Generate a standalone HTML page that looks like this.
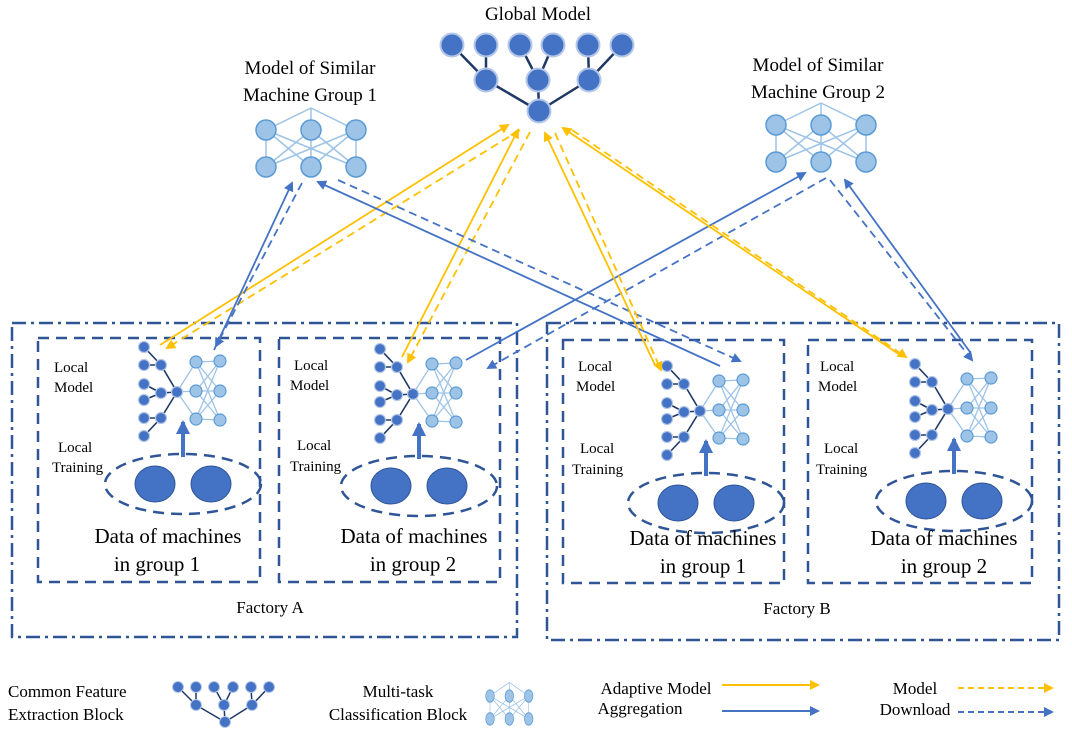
<!DOCTYPE html>
<html><head><meta charset="utf-8"><style>
html,body{margin:0;padding:0;background:#fff}
svg{display:block}
text{font-family:"Liberation Serif",serif;fill:#000}
</style></head><body>
<svg width="1072" height="744" viewBox="0 0 1072 744" xmlns="http://www.w3.org/2000/svg">
<defs>
<marker id="ao" markerWidth="10" markerHeight="10" refX="8" refY="5" orient="auto" markerUnits="userSpaceOnUse"><path d="M0,0 L10,5 L0,10 z" fill="#FFC000"/></marker>
<marker id="ab" markerWidth="10" markerHeight="10" refX="8" refY="5" orient="auto" markerUnits="userSpaceOnUse"><path d="M0,0 L10,5 L0,10 z" fill="#4472C4"/></marker>
<marker id="abl" markerWidth="14" markerHeight="14" refX="12" refY="7" orient="auto" markerUnits="userSpaceOnUse"><path d="M0,0 L14,7 L0,14 z" fill="#4472C4"/></marker>
<g id="lm">
 <g stroke="#1F3864" stroke-width="1.6">
  <line x1="144" y1="347" x2="161" y2="365"/><line x1="144" y1="365" x2="161" y2="365"/>
  <line x1="144" y1="384" x2="161" y2="393"/><line x1="144" y1="400" x2="161" y2="393"/>
  <line x1="144" y1="418" x2="161" y2="418"/><line x1="144" y1="436" x2="161" y2="418"/>
  <line x1="161" y1="365" x2="177" y2="392"/><line x1="161" y1="393" x2="177" y2="392"/><line x1="161" y1="418" x2="177" y2="392"/>
 </g>
 <g stroke="#9DC3E6" stroke-width="1.3">
  <line x1="177" y1="392" x2="196" y2="362"/><line x1="177" y1="392" x2="196" y2="391"/><line x1="177" y1="392" x2="196" y2="419"/>
  <line x1="196" y1="362" x2="220" y2="361"/><line x1="196" y1="362" x2="220" y2="391"/><line x1="196" y1="362" x2="220" y2="420"/>
  <line x1="196" y1="391" x2="220" y2="361"/><line x1="196" y1="391" x2="220" y2="391"/><line x1="196" y1="391" x2="220" y2="420"/>
  <line x1="196" y1="419" x2="220" y2="361"/><line x1="196" y1="419" x2="220" y2="391"/><line x1="196" y1="419" x2="220" y2="420"/>
 </g>
 <g fill="#4472C4" stroke="#B4C7E7" stroke-width="1.2">
  <circle cx="144" cy="347" r="5.5"/><circle cx="144" cy="365" r="5.5"/><circle cx="144" cy="384" r="5.5"/><circle cx="144" cy="400" r="5.5"/><circle cx="144" cy="418" r="5.5"/><circle cx="144" cy="436" r="5.5"/>
  <circle cx="161" cy="365" r="5.5"/><circle cx="161" cy="393" r="5.5"/><circle cx="161" cy="418" r="5.5"/><circle cx="177" cy="392" r="5.5"/>
 </g>
 <g fill="#9DC3E6" stroke="#5B9BD5" stroke-width="1.2">
  <circle cx="196" cy="362" r="6"/><circle cx="196" cy="391" r="6"/><circle cx="196" cy="419" r="6"/>
  <circle cx="220" cy="361" r="6"/><circle cx="220" cy="391" r="6"/><circle cx="220" cy="420" r="6"/>
 </g>
 <line x1="183" y1="457" x2="183" y2="422" stroke="#4472C4" stroke-width="4" marker-end="url(#abl)"/>
 <ellipse cx="183" cy="484" rx="78" ry="30" fill="none" stroke="#2F5597" stroke-width="2.5" stroke-dasharray="11,7"/>
 <ellipse cx="155" cy="484" rx="20" ry="18" fill="#4472C4" stroke="#2F5597"/>
 <ellipse cx="211" cy="484" rx="20" ry="18" fill="#4472C4" stroke="#2F5597"/>
</g>
<g id="cls">
 <g stroke="#9DC3E6" stroke-width="1.5">
  <line x1="0" y1="0" x2="45" y2="-22"/><line x1="45" y1="0" x2="45" y2="-22"/><line x1="90" y1="0" x2="45" y2="-22"/>
  <line x1="0" y1="0" x2="0" y2="37"/><line x1="0" y1="0" x2="45" y2="37"/><line x1="0" y1="0" x2="90" y2="37"/>
  <line x1="45" y1="0" x2="0" y2="37"/><line x1="45" y1="0" x2="45" y2="37"/><line x1="45" y1="0" x2="90" y2="37"/>
  <line x1="90" y1="0" x2="0" y2="37"/><line x1="90" y1="0" x2="45" y2="37"/><line x1="90" y1="0" x2="90" y2="37"/>
 </g>
 <g fill="#9DC3E6" stroke="#5B9BD5" stroke-width="1.5">
  <circle cx="0" cy="0" r="10"/><circle cx="45" cy="0" r="10"/><circle cx="90" cy="0" r="10"/>
  <circle cx="0" cy="37" r="10"/><circle cx="45" cy="37" r="10"/><circle cx="90" cy="37" r="10"/>
 </g>
</g>
</defs>

<!-- Global model -->
<g stroke="#1F3864" stroke-width="2.5">
 <line x1="452" y1="45" x2="486" y2="80"/><line x1="486" y1="45" x2="486" y2="80"/>
 <line x1="520" y1="45" x2="538" y2="80"/><line x1="553" y1="45" x2="538" y2="80"/>
 <line x1="588" y1="45" x2="589" y2="80"/><line x1="622" y1="45" x2="589" y2="80"/>
 <line x1="486" y1="80" x2="539" y2="111"/><line x1="538" y1="80" x2="539" y2="111"/><line x1="589" y1="80" x2="539" y2="111"/>
</g>
<g fill="#4472C4" stroke="#B4C7E7" stroke-width="2">
 <circle cx="452" cy="45" r="11.5"/><circle cx="486" cy="45" r="11.5"/><circle cx="520" cy="45" r="11.5"/><circle cx="553" cy="45" r="11.5"/><circle cx="588" cy="45" r="11.5"/><circle cx="622" cy="45" r="11.5"/>
 <circle cx="486" cy="80" r="11.5"/><circle cx="538" cy="80" r="11.5"/><circle cx="589" cy="80" r="11.5"/><circle cx="539" cy="111" r="11.5"/>
</g>
<text x="538" y="20" font-size="19" text-anchor="middle">Global Model</text>

<use href="#cls" transform="translate(266,130)"/>
<use href="#cls" transform="translate(776,125)"/>
<text x="310" y="74" font-size="19" text-anchor="middle">Model of  Similar</text>
<text x="310" y="101" font-size="19" text-anchor="middle">Machine Group 1</text>
<text x="818" y="71" font-size="19" text-anchor="middle">Model of  Similar</text>
<text x="818" y="98" font-size="19" text-anchor="middle">Machine Group 2</text>

<!-- Factory boxes -->
<g fill="none" stroke="#2F5597" stroke-width="2.5">
 <rect x="12" y="323" width="505" height="314" stroke-dasharray="14,5,3,5"/>
 <rect x="547" y="323" width="512" height="317" stroke-dasharray="14,5,3,5"/>
 <rect x="38" y="338" width="222" height="244" stroke-dasharray="11,7"/>
 <rect x="279" y="338" width="221" height="244" stroke-dasharray="11,7"/>
 <rect x="563" y="340" width="221" height="243" stroke-dasharray="11,7"/>
 <rect x="808" y="340" width="224" height="243" stroke-dasharray="11,7"/>
</g>

<use href="#lm"/>
<use href="#lm" transform="translate(236,2)"/>
<use href="#lm" transform="translate(523,19)"/>
<use href="#lm" transform="translate(771,17)"/>

<g font-size="15">
<text x="54" y="372">Local</text><text x="54" y="392">Model</text>
<text x="58" y="452">Local</text><text x="52" y="472">Training</text>
<text x="294" y="370">Local</text><text x="290" y="390">Model</text>
<text x="297" y="450">Local</text><text x="290" y="471">Training</text>
<text x="578" y="371">Local</text><text x="576" y="391">Model</text>
<text x="580" y="453">Local</text><text x="572" y="474">Training</text>
<text x="820" y="371">Local</text><text x="818" y="391">Model</text>
<text x="824" y="453">Local</text><text x="816" y="474">Training</text>
</g>
<g font-size="21" text-anchor="middle">
<text x="168" y="543">Data of machines</text><text x="157" y="571">in group 1</text>
<text x="414" y="543">Data of machines</text><text x="413" y="571">in group 2</text>
<text x="703" y="545">Data of machines</text><text x="703" y="573">in group 1</text>
<text x="944" y="545">Data of machines</text><text x="944" y="573">in group 2</text>
</g>
<text x="270" y="613" font-size="17" text-anchor="middle">Factory A</text>
<text x="797" y="614" font-size="17" text-anchor="middle">Factory B</text>

<!-- connectors -->
<g stroke-width="1.8" fill="none">
 <line x1="160" y1="345" x2="508" y2="125" stroke="#FFC000" marker-end="url(#ao)"/>
 <line x1="520" y1="130" x2="167" y2="348" stroke="#FFC000" stroke-dasharray="8,5" marker-end="url(#ao)"/>
 <line x1="214" y1="350" x2="292" y2="183" stroke="#4472C4" marker-end="url(#ab)"/>
 <line x1="302" y1="183" x2="216" y2="346" stroke="#4472C4" stroke-dasharray="8,5" marker-end="url(#ab)"/>
 <line x1="402" y1="357" x2="518" y2="130" stroke="#FFC000" marker-end="url(#ao)"/>
 <line x1="530" y1="132" x2="408" y2="362" stroke="#FFC000" stroke-dasharray="8,5" marker-end="url(#ao)"/>
 <line x1="466" y1="360" x2="805" y2="173" stroke="#4472C4" marker-end="url(#ab)"/>
 <line x1="826" y1="178" x2="488" y2="368" stroke="#4472C4" stroke-dasharray="8,5" marker-end="url(#ab)"/>
 <line x1="720" y1="366" x2="318" y2="182" stroke="#4472C4" marker-end="url(#ab)"/>
 <line x1="338" y1="180" x2="740" y2="361" stroke="#4472C4" stroke-dasharray="8,5" marker-end="url(#ab)"/>
 <line x1="655" y1="365" x2="545" y2="133" stroke="#FFC000" marker-end="url(#ao)"/>
 <line x1="555" y1="133" x2="661" y2="370" stroke="#FFC000" stroke-dasharray="8,5" marker-end="url(#ao)"/>
 <line x1="900" y1="355" x2="563" y2="128" stroke="#FFC000" marker-end="url(#ao)"/>
 <line x1="572" y1="130" x2="906" y2="357" stroke="#FFC000" stroke-dasharray="8,5" marker-end="url(#ao)"/>
 <line x1="970" y1="352" x2="845" y2="180" stroke="#4472C4" marker-end="url(#ab)"/>
 <line x1="830" y1="180" x2="972" y2="360" stroke="#4472C4" stroke-dasharray="8,5" marker-end="url(#ab)"/>
</g>

<!-- legend -->
<g font-size="17">
<text x="8" y="697">Common  Feature</text><text x="8" y="720">Extraction  Block</text>
<text x="398" y="697" text-anchor="middle">Multi-task</text><text x="398" y="720" text-anchor="middle">Classification Block</text>
<text x="656" y="694" text-anchor="middle">Adaptive Model</text><text x="640" y="714" text-anchor="middle">Aggregation</text>
<text x="915" y="694" text-anchor="middle">Model</text><text x="915" y="715" text-anchor="middle">Download</text>
</g>
<g stroke="#1F3864" stroke-width="1.5">
 <line x1="178" y1="687" x2="196" y2="705"/><line x1="196" y1="687" x2="196" y2="705"/>
 <line x1="214" y1="687" x2="224" y2="705"/><line x1="233" y1="687" x2="224" y2="705"/>
 <line x1="251" y1="687" x2="252" y2="705"/><line x1="269" y1="687" x2="252" y2="705"/>
 <line x1="196" y1="705" x2="225" y2="722"/><line x1="224" y1="705" x2="225" y2="722"/><line x1="252" y1="705" x2="225" y2="722"/>
</g>
<g fill="#4472C4" stroke="#B4C7E7" stroke-width="1">
 <circle cx="178" cy="687" r="5.5"/><circle cx="196" cy="687" r="5.5"/><circle cx="214" cy="687" r="5.5"/><circle cx="233" cy="687" r="5.5"/><circle cx="251" cy="687" r="5.5"/><circle cx="269" cy="687" r="5.5"/>
 <circle cx="196" cy="705" r="5.5"/><circle cx="224" cy="705" r="5.5"/><circle cx="252" cy="705" r="5.5"/><circle cx="225" cy="722" r="5.5"/>
</g>
<use href="#cls" transform="translate(490,696) scale(0.43,0.62)"/>
<line x1="722" y1="685" x2="818" y2="685" stroke="#FFC000" stroke-width="2" marker-end="url(#ao)"/>
<line x1="722" y1="711" x2="818" y2="711" stroke="#4472C4" stroke-width="2" marker-end="url(#ab)"/>
<line x1="958" y1="688" x2="1052" y2="688" stroke="#FFC000" stroke-width="2" stroke-dasharray="6,4" marker-end="url(#ao)"/>
<line x1="958" y1="712" x2="1052" y2="712" stroke="#4472C4" stroke-width="2" stroke-dasharray="6,4" marker-end="url(#ab)"/>
</svg>
</body></html>
